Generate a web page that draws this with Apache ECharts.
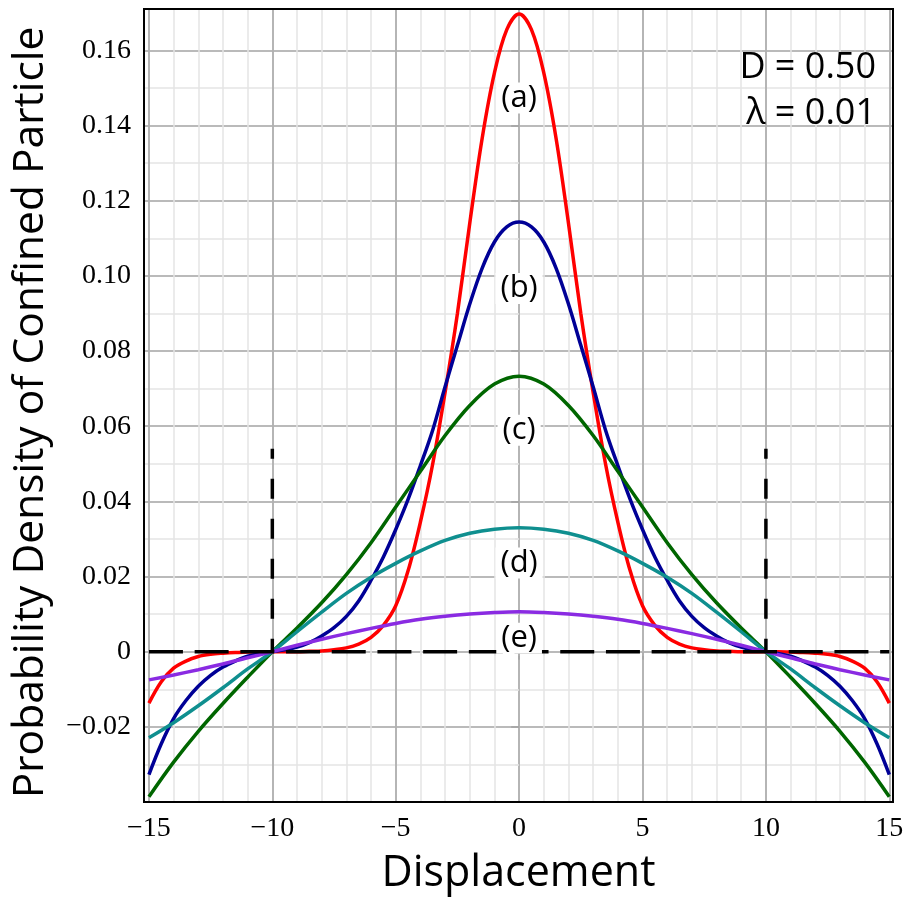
<!DOCTYPE html>
<html>
<head>
<meta charset="utf-8">
<script src="https://cdn.jsdelivr.net/npm/echarts@6/dist/echarts.min.js"></script>
<style>
  html, body { margin: 0; padding: 0; background: #ffffff; }
  #chart { width: 912px; height: 900px; }
</style>
</head>
<body>
<div id="chart"></div>
<script>
// Displacement samples (fine grid for the narrow curves, coarse grid for the broad ones)
const xFine = [-15, -14.5, -14, -13.5, -13, -12.5, -12, -11.5, -11, -10.5, -10, -9.5, -9, -8.5, -8, -7.5, -7, -6.5, -6, -5.5, -5,
  -4.5, -4, -3.5, -3, -2.5, -2, -1.5, -1, -0.5, 0, 0.5, 1, 1.5, 2, 2.5, 3, 3.5, 4, 4.5, 5, 5.5, 6, 6.5, 7, 7.5, 8, 8.5, 9, 9.5,
  10, 10.5, 11, 11.5, 12, 12.5, 13, 13.5, 14, 14.5, 15];
const xCoarse = [-15, -14, -13, -12, -11, -10, -9, -8, -7, -6, -5, -4, -3, -2, -1, 0, 1, 2, 3, 4, 5, 6, 7, 8, 9, 10, 11, 12, 13, 14, 15];

// Probability density curves
const densityA = [-0.0137, -0.0080, -0.0044, -0.0025, -0.0013, -0.0007, -0.0004, -0.0002, -0.0001, 0.0000, 0.0000,
  0.0000, 0.0000, 0.0001, 0.0002, 0.0005, 0.0010, 0.0020, 0.0038, 0.0070, 0.0122,
  0.0215, 0.0345, 0.0500, 0.0690, 0.0900, 0.1140, 0.1365, 0.1540, 0.1655, 0.1697,
  0.1655, 0.1540, 0.1365, 0.1140, 0.0900, 0.0690, 0.0500, 0.0345, 0.0215, 0.0122,
  0.0070, 0.0038, 0.0020, 0.0010, 0.0005, 0.0002, 0.0001, 0.0000, 0.0000, 0.0000,
  0.0000, -0.0001, -0.0002, -0.0004, -0.0007, -0.0013, -0.0025, -0.0044, -0.0080, -0.0137];
const densityB = [-0.0327, -0.0245, -0.0178, -0.0130, -0.0092, -0.0063, -0.0041, -0.0025, -0.0012, -0.0005, 0.0000,
  0.0005, 0.0012, 0.0024, 0.0042, 0.0064, 0.0094, 0.0135, 0.0190, 0.0252, 0.0325,
  0.0405, 0.0495, 0.0590, 0.0705, 0.0815, 0.0925, 0.1020, 0.1090, 0.1130, 0.1143,
  0.1130, 0.1090, 0.1020, 0.0925, 0.0815, 0.0705, 0.0590, 0.0495, 0.0405, 0.0325,
  0.0252, 0.0190, 0.0135, 0.0094, 0.0064, 0.0042, 0.0024, 0.0012, 0.0005, 0.0000,
  -0.0005, -0.0012, -0.0025, -0.0041, -0.0063, -0.0092, -0.0130, -0.0178, -0.0245, -0.0327];
const densityC = [-0.0386, -0.0294, -0.0212, -0.0138, -0.0068, 0.0000, 0.0063, 0.0130, 0.0205, 0.0290, 0.0385,
  0.0480, 0.0575, 0.0655, 0.0712, 0.0733, 0.0712, 0.0655, 0.0575, 0.0480, 0.0385,
  0.0290, 0.0205, 0.0130, 0.0063, 0.0000, -0.0068, -0.0138, -0.0212, -0.0294, -0.0386];
const densityD = [-0.0229, -0.0189, -0.0144, -0.0096, -0.0046, 0.0000, 0.0053, 0.0105, 0.0155, 0.0198, 0.0235,
  0.0268, 0.0296, 0.0315, 0.0326, 0.0330, 0.0326, 0.0315, 0.0296, 0.0268, 0.0235,
  0.0198, 0.0155, 0.0105, 0.0053, 0.0000, -0.0046, -0.0096, -0.0144, -0.0189, -0.0229];
const densityE = [-0.0075, -0.0062, -0.0048, -0.0033, -0.0016, 0.0000, 0.0017, 0.0033, 0.0048, 0.0062, 0.0075,
  0.0086, 0.0094, 0.0100, 0.0104, 0.0106, 0.0104, 0.0100, 0.0094, 0.0086, 0.0075,
  0.0062, 0.0048, 0.0033, 0.0017, 0.0000, -0.0016, -0.0033, -0.0048, -0.0062, -0.0075];

// Curve tags and the density level each tag sits at (on x = 0)
const curveTags = ['(a)', '(b)', '(c)', '(d)', '(e)'];
const tagLevels = [0.1473, 0.0966, 0.0589, 0.0236, 0.0036];

// Confinement walls and baseline
const wallX = [-10, 10];
const wallTop = 0.054;
const baselineX = [-15, 15];

// Tick values
const xMajorTicks = [-15, -10, -5, 0, 5, 10, 15];
const xMinorTicks = [-15, -14, -13, -12, -11, -10, -9, -8, -7, -6, -5, -4, -3, -2, -1, 0, 1, 2, 3, 4, 5, 6, 7, 8, 9, 10, 11, 12, 13, 14, 15];
const yMajorTicks = [-0.02, 0, 0.02, 0.04, 0.06, 0.08, 0.10, 0.12, 0.14, 0.16];
const yMinorTicks = [-0.03, -0.01, 0.01, 0.03, 0.05, 0.07, 0.09, 0.11, 0.13, 0.15];

const params = ['D = 0.50', 'λ = 0.01'];

const SERIF = '"Liberation Serif", "Times New Roman", serif';
const SANS = '"Open Sans", "Noto Sans", sans-serif';
const MAJOR_GRID = '#a3a3a3';
const MINOR_GRID = '#e4e4e4';

const pair = (xs, ys) => xs.map((x, i) => [x, ys[i]]);
const fmtNum = v => {
  if (Math.abs(v) < 1e-9) return '0';
  return (v < 0 ? '\u2212' : '') + Math.abs(v).toFixed(2);
};
const fmtX = v => (v < 0 ? '\u2212' : '') + Math.abs(v);

const X_MIN = -15.2, X_MAX = 15.15;
const Y_MIN = -0.04, Y_MAX = 0.171;

function minorAxis(ticks, isX) {
  return {
    type: 'value', min: isX ? X_MIN : Y_MIN, max: isX ? X_MAX : Y_MAX,
    position: isX ? 'bottom' : 'left',
    axisLine: { show: false },
    axisTick: { show: true, customValues: ticks, length: 4, lineStyle: { color: MINOR_GRID, width: 1.5 } },
    axisLabel: { show: false },
    splitLine: { show: true, lineStyle: { color: MINOR_GRID, width: 1.5 } }
  };
}

const curveColors = ['#ff0000', '#000096', '#006600', '#0f8f8f', '#8a2be2'];
const curves = [
  pair(xFine, densityA), pair(xFine, densityB), pair(xCoarse, densityC),
  pair(xCoarse, densityD), pair(xCoarse, densityE)
];

const series = [];
curves.forEach((d, i) => {
  series.push({
    type: 'line', xAxisIndex: 1, yAxisIndex: 1, data: d, showSymbol: false,
    smooth: 0.35, z: 3 + i,
    lineStyle: { color: curveColors[i], width: 3.5 }, silent: true
  });
});

// dashed baseline and walls drawn above the curves
series.push({
  type: 'line', xAxisIndex: 1, yAxisIndex: 1, z: 10, showSymbol: false, silent: true,
  data: [[baselineX[0], 0], [baselineX[1], 0]],
  lineStyle: { color: '#000', width: 3.5, type: [34, 11.7] }
});
wallX.forEach(w => {
  series.push({
    type: 'line', xAxisIndex: 1, yAxisIndex: 1, z: 10, showSymbol: false, silent: true,
    data: [[w, wallTop], [w, 0]],
    lineStyle: { color: '#000', width: 3.5, type: [20, 20], dashOffset: 10 }
  });
});

// curve tags on a white box
series.push({
  type: 'scatter', xAxisIndex: 1, yAxisIndex: 1, z: 20, symbolSize: 0, silent: true,
  itemStyle: { opacity: 1 },
  data: tagLevels.map((v, i) => ({ value: [0, v], name: curveTags[i] })),
  label: {
    show: true, position: 'inside', formatter: p => p.name,
    fontFamily: SANS, fontSize: 31, color: '#000',
    textBorderWidth: 0, textBorderColor: 'transparent',
    backgroundColor: '#ffffff', padding: [0, 5]
  }
});

const chart = echarts.init(document.getElementById('chart'), null, { renderer: 'canvas' });
chart.setOption({
  animation: false,
  backgroundColor: '#ffffff',
  grid: { left: 144, right: 19, top: 9, bottom: 98, show: true, borderColor: '#000', borderWidth: 2, backgroundColor: 'transparent', z: 8 },
  xAxis: [
    minorAxis(xMinorTicks, true),
    {
      type: 'value', min: X_MIN, max: X_MAX, position: 'bottom',
      axisLine: { show: false },
      axisTick: { show: true, customValues: xMajorTicks, length: 8, lineStyle: { color: MAJOR_GRID, width: 1.5 } },
      axisLabel: { customValues: xMajorTicks, formatter: fmtX, fontFamily: SERIF, fontSize: 28, color: '#000', margin: 13 },
      splitLine: { show: true, lineStyle: { color: MAJOR_GRID, width: 1.5 } },
      name: 'Displacement', nameLocation: 'middle', nameGap: 50,
      nameTextStyle: { fontFamily: SANS, fontSize: 43, color: '#000' }
    }
  ],
  yAxis: [
    minorAxis(yMinorTicks, false),
    {
      type: 'value', min: Y_MIN, max: Y_MAX, position: 'left',
      axisLine: { show: false },
      axisTick: { show: true, customValues: yMajorTicks, length: 8, lineStyle: { color: MAJOR_GRID, width: 1.5 } },
      axisLabel: { customValues: yMajorTicks, formatter: fmtNum, fontFamily: SERIF, fontSize: 28, color: '#000', margin: 13 },
      splitLine: { show: true, lineStyle: { color: MAJOR_GRID, width: 1.5 } },
      name: 'Probability Density of Confined Particle', nameLocation: 'middle', nameGap: 92, nameRotate: 90,
      nameTextStyle: { fontFamily: SANS, fontSize: 42.5, color: '#000', padding: [0, 14, 0, 0] }
    }
  ],
  graphic: params.map((t, i) => ({
    type: 'text', right: 36, top: 50 + i * 46, z: 30,
    style: { text: t, font: '36px ' + SANS, fill: '#000' }
  })),
  series: series
});
</script>
</body>
</html>
